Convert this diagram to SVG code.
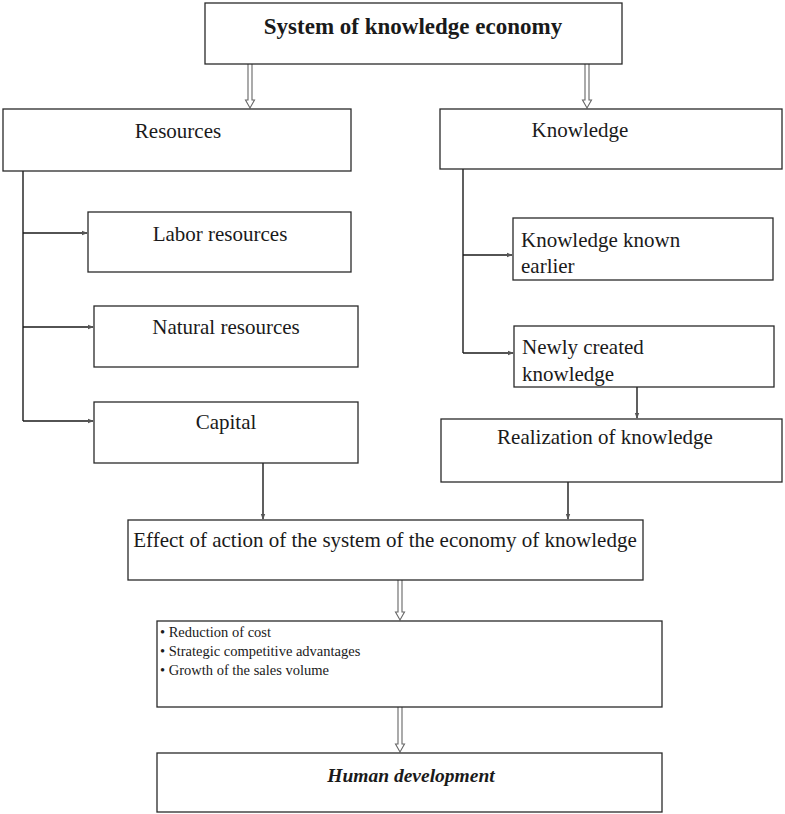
<svg xmlns="http://www.w3.org/2000/svg" width="785" height="814" viewBox="0 0 785 814">
<style>
.box{fill:#fff;stroke:#2a2a2a;stroke-width:1.3}
.t{font-family:'Liberation Serif', Tinos, 'Times New Roman', Times, serif;font-size:21px;fill:#1a1a1a}
.tb{font-weight:bold;font-size:23px}
.hd{font-weight:bold;font-style:italic;font-size:19.5px}
.bl{font-size:14.5px}
.c{text-anchor:middle}
.ln{fill:none;stroke:#1a1a1a;stroke-width:1.4}
.dbl{fill:none;stroke:#666;stroke-width:1.1}
</style>
<defs>
<marker id="ah" viewBox="0 0 8 8" refX="7" refY="4" markerWidth="6" markerHeight="6" orient="auto" markerUnits="userSpaceOnUse">
<path d="M0,1 L8,4 L0,7 z" fill="#555"/>
</marker>
</defs>
<rect width="785" height="814" fill="#fff"/>
<g id="connectors">
<path class="dbl" d="M248 64 V100 H245.5 L250 108 L254.5 100 H252 V64"/>
<path class="dbl" d="M585 64 V100 H582.5 L587 108 L591.5 100 H589 V64"/>
<path class="ln" d="M23 171 V421"/>
<path class="ln" d="M23 233 H87" marker-end="url(#ah)"/>
<path class="ln" d="M23 327 H93" marker-end="url(#ah)"/>
<path class="ln" d="M23 421 H93" marker-end="url(#ah)"/>
<path class="ln" d="M463 169 V353"/>
<path class="ln" d="M463 255 H512" marker-end="url(#ah)"/>
<path class="ln" d="M463 353 H513" marker-end="url(#ah)"/>
<path class="ln" d="M637 387 V418" marker-end="url(#ah)"/>
<path class="ln" d="M263 463 V519" marker-end="url(#ah)"/>
<path class="ln" d="M568 482 V519" marker-end="url(#ah)"/>
<path class="dbl" d="M398 580 V612 H395.5 L400 620 L404.5 612 H402 V580"/>
<path class="dbl" d="M398 707 V744 H395.5 L400 752 L404.5 744 H402 V707"/>
</g>
<g id="n-system"><rect class="box" x="205" y="3" width="417" height="61"/><text class="t tb c" x="413" y="34">System of knowledge economy</text></g>
<g id="n-resources"><rect class="box" x="3" y="109" width="348" height="62"/><text class="t c" x="178" y="138">Resources</text></g>
<g id="n-knowledge"><rect class="box" x="440" y="109" width="342" height="60"/><text class="t c" x="580" y="137">Knowledge</text></g>
<g id="n-labor"><rect class="box" x="88" y="212" width="263" height="60"/><text class="t c" x="220" y="241">Labor resources</text></g>
<g id="n-natural"><rect class="box" x="94" y="306" width="264" height="61"/><text class="t c" x="226" y="334">Natural resources</text></g>
<g id="n-capital"><rect class="box" x="94" y="402" width="264" height="61"/><text class="t c" x="226" y="429">Capital</text></g>
<g id="n-known"><rect class="box" x="513" y="218" width="260" height="62"/><text class="t" x="521" y="247">Knowledge known</text><text class="t" x="521" y="273">earlier</text></g>
<g id="n-newly"><rect class="box" x="514" y="326" width="260" height="61"/><text class="t" x="522" y="354">Newly created</text><text class="t" x="522" y="381">knowledge</text></g>
<g id="n-realization"><rect class="box" x="441" y="419" width="341" height="63"/><text class="t c" x="605" y="444">Realization of knowledge</text></g>
<g id="n-effect"><rect class="box" x="128" y="520" width="515" height="60"/><text class="t c" x="385" y="547">Effect of action of the system of the economy of knowledge</text></g>
<g id="n-bullets"><rect class="box" x="157" y="621" width="505" height="86"/>
<text class="t bl" x="160" y="637">• Reduction of cost</text>
<text class="t bl" x="160" y="656">• Strategic competitive advantages</text>
<text class="t bl" x="160" y="675">• Growth of the sales volume</text></g>
<g id="n-human"><rect class="box" x="157" y="753" width="505" height="59"/><text class="t hd c" x="411" y="782">Human development</text></g>
</svg>
